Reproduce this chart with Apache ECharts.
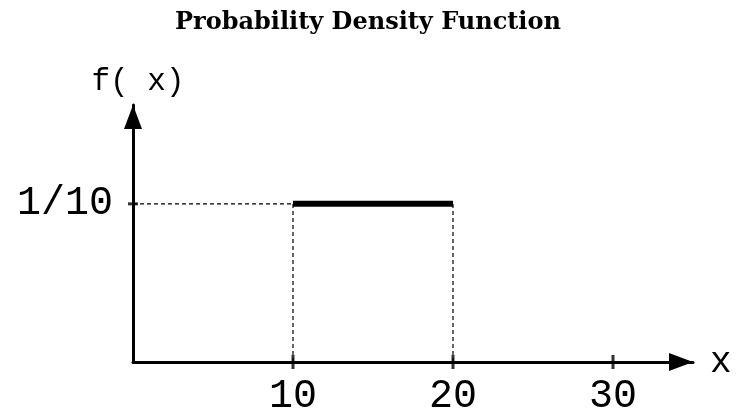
<!DOCTYPE html>
<html>
<head>
<meta charset="utf-8">
<script src="https://cdn.jsdelivr.net/npm/echarts@6/dist/echarts.min.js"></script>
<style>html,body{margin:0;padding:0;background:#fff}#c{width:736px;height:416px}</style>
</head>
<body>
<div id="c"></div>
<script>
// Data
const xTicks = [10, 20, 30];
const xTickLabels = ['10', '20', '30'];
const yTicks = [0.1];
const yTickLabels = ['1/10'];
const pdfStart = 10;
const pdfEnd = 20;
const pdfHeight = 0.1;

const chart = echarts.init(document.getElementById('c'));
const monoFont = '"Liberation Mono", "DejaVu Sans Mono", monospace';
const dashStyle = { color: '#000', width: 1.2, type: [4, 3] };

chart.setOption({
  animation: false,
  title: {
    text: 'Probability Density Function',
    left: 'center',
    top: 6,
    textStyle: { fontFamily: '"DejaVu Serif", serif', fontWeight: 'bold', fontSize: 24, color: '#000' }
  },
  grid: { left: 133, right: 43, top: 105, bottom: 51 },
  xAxis: {
    type: 'value', min: 0, max: 35,
    name: 'x', nameLocation: 'end', nameGap: 17,
    nameTextStyle: { fontFamily: monoFont, fontSize: 36, color: '#000', verticalAlign: 'middle', padding: [6, 0, 0, 0] },
    axisLine: { show: true, lineStyle: { color: '#000', width: 3 }, symbol: ['none', 'triangle'], symbolSize: [18, 24], symbolOffset: [0, -12] },
    axisTick: { show: false },
    splitLine: { show: false },
    axisLabel: {
      customValues: xTicks,
      formatter: v => xTickLabels[xTicks.indexOf(v)] || '',
      fontFamily: monoFont, fontSize: 40, color: '#000', margin: 14
    }
  },
  yAxis: {
    type: 'value', min: 0, max: 0.1625,
    name: 'f( x)', nameLocation: 'end', nameGap: 8,
    nameTextStyle: { fontFamily: monoFont, fontSize: 31, color: '#000', padding: [0, 0, 0, 10] },
    axisLine: { show: true, lineStyle: { color: '#000', width: 3 }, symbol: ['none', 'triangle'], symbolSize: [18, 24], symbolOffset: [0, -12] },
    axisTick: { show: false },
    splitLine: { show: false },
    axisLabel: {
      customValues: yTicks,
      formatter: v => yTickLabels[yTicks.indexOf(v)] || '',
      fontFamily: monoFont, fontSize: 40, color: '#000', margin: 20
    }
  },
  series: [
    {
      type: 'line', symbol: 'none', silent: true, clip: false,
      lineStyle: dashStyle,
      data: [[0, pdfHeight], [pdfStart, pdfHeight]]
    },
    {
      type: 'line', symbol: 'none', silent: true, clip: false,
      lineStyle: dashStyle,
      data: [[pdfStart, 0], [pdfStart, pdfHeight]]
    },
    {
      type: 'line', symbol: 'none', silent: true, clip: false,
      lineStyle: dashStyle,
      data: [[pdfEnd, 0], [pdfEnd, pdfHeight]]
    },
    {
      type: 'line', symbol: 'none', silent: true, clip: false,
      lineStyle: { color: '#000', width: 6, cap: 'butt' },
      data: [[pdfStart, pdfHeight], [pdfEnd, pdfHeight]]
    },
    {
      type: 'scatter', silent: true, clip: false,
      symbol: 'rect', symbolSize: [3, 14],
      itemStyle: { color: '#000' },
      data: xTicks.map(v => [v, 0])
    },
    {
      type: 'scatter', silent: true, clip: false,
      symbol: 'rect', symbolSize: [10, 3],
      itemStyle: { color: '#000' },
      data: yTicks.map(v => [0, v])
    }
  ]
});
</script>
</body>
</html>
